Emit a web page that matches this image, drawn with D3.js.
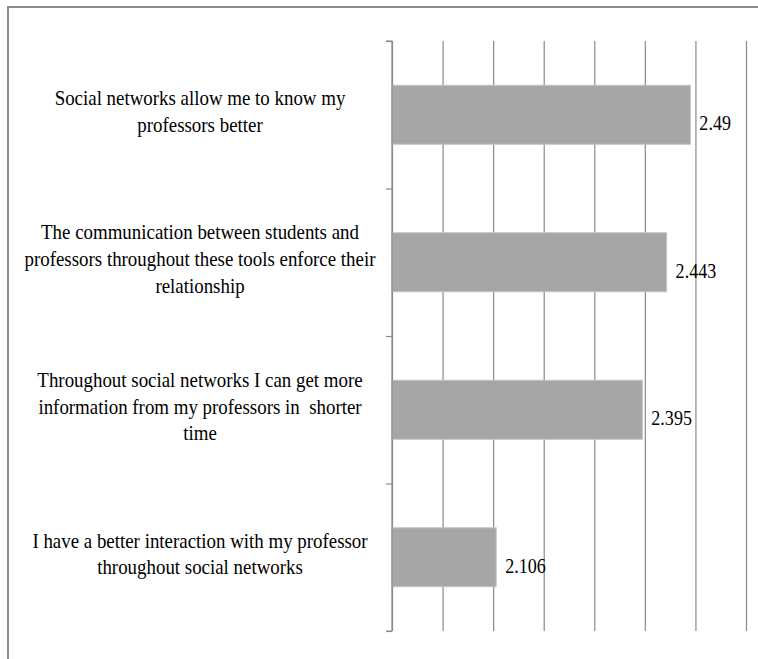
<!DOCTYPE html>
<html>
<head>
<meta charset="utf-8">
<script src="https://cdn.jsdelivr.net/npm/d3@7/dist/d3.min.js"></script>
<style>
  html, body { margin: 0; padding: 0; background: #fff; }
  svg { display: block; }
  text { white-space: pre; }
</style>
</head>
<body>
<svg id="chart" width="758" height="659"></svg>
<script>
// ---- data ----
const categories = [
  "Social networks allow me to know my professors better",
  "The communication between students and professors throughout these tools enforce their relationship",
  "Throughout social networks I can get more information from my professors in  shorter time",
  "I have a better interaction with my professor throughout social networks"
];
const categoryLines = [
  ["Social networks allow me to know my", "professors better"],
  ["The communication between students and", "professors throughout these tools enforce their", "relationship"],
  ["Throughout social networks I can get more", "information from my professors in  shorter", "time"],
  ["I have a better interaction with my professor", "throughout social networks"]
];
const values = [2.49, 2.443, 2.395, 2.106];
const valueLabels = ["2.49", "2.443", "2.395", "2.106"];
const gridTicks = [1.9, 2.0, 2.1, 2.2, 2.3, 2.4, 2.5, 2.6];

// ---- layout ----
const svg = d3.select("#chart");
const pL = 392, pR = 746, pT = 41, pB = 631;

const x = d3.scaleLinear().domain([1.9, 2.6]).range([pL, pR]);
const y = d3.scaleBand().domain(categories).range([pT, pB]).paddingInner(0.6).paddingOuter(0.3);

// outer frame
svg.append("line").attr("x1", 7).attr("x2", 758).attr("y1", 7).attr("y2", 7)
  .attr("stroke", "#8c8c8c").attr("stroke-width", 2);
svg.append("line").attr("x1", 8).attr("x2", 8).attr("y1", 7).attr("y2", 659)
  .attr("stroke", "#8c8c8c").attr("stroke-width", 2);

// gridlines
svg.append("g")
  .attr("transform", `translate(0,${pT})`)
  .call(d3.axisTop(x).tickValues(gridTicks).tickSize(-(pB - pT)).tickFormat(""))
  .call(g => g.select(".domain").remove())
  .call(g => g.selectAll(".tick line").attr("stroke", "#8a8a8a").attr("stroke-width", 1.2));

// bars
svg.append("g").selectAll("rect")
  .data(values)
  .join("rect")
  .attr("x", x(1.9))
  .attr("y", (d, i) => y(categories[i]))
  .attr("width", d => x(d) - x(1.9))
  .attr("height", y.bandwidth())
  .attr("fill", "#a6a6a6")
  .attr("stroke", "#c4c4c4")
  .attr("stroke-width", 1);

// y axis with category-boundary ticks
const yEdge = d3.scaleLinear().domain([0, categories.length]).range([pT, pB]);
svg.append("g")
  .attr("transform", `translate(${pL},0)`)
  .call(d3.axisLeft(yEdge).ticks(categories.length).tickSize(6).tickFormat(""))
  .call(g => g.select(".domain").attr("stroke", "#8a8a8a").attr("stroke-width", 1.2).attr("d", `M-6,${pT}H0V${pB}H-6`))
  .call(g => g.selectAll(".tick line").attr("stroke", "#8a8a8a").attr("stroke-width", 1.2));

// category labels
const lineH = 26.7;
const labelG = svg.append("g")
  .attr("font-family", "'Liberation Serif', 'Times New Roman', Times, serif")
  .attr("font-size", 21)
  .attr("fill", "#000");
categoryLines.forEach((lines, i) => {
  const cy = y(categories[i]) + y.bandwidth() / 2 - 3.5;
  const y0 = cy - (lines.length - 1) * lineH / 2;
  const t = labelG.append("text")
    .attr("text-anchor", "middle")
    .attr("transform", `translate(200,0) scale(0.9,1)`);
  lines.forEach((ln, j) => {
    t.append("tspan").attr("x", 0).attr("y", y0 + j * lineH).attr("dy", "0.35em").text(ln);
  });
});

// value labels
svg.append("g")
  .attr("font-family", "'Liberation Serif', 'Times New Roman', Times, serif")
  .attr("font-size", 21)
  .selectAll("text")
  .data(values)
  .join("text")
  .attr("transform", (d, i) => `translate(${x(d) + 9},${y(categories[i]) + y.bandwidth() / 2 + 8}) scale(0.86,1)`)
  .attr("dy", "0.35em")
  .text((d, i) => valueLabels[i]);
</script>
</body>
</html>
